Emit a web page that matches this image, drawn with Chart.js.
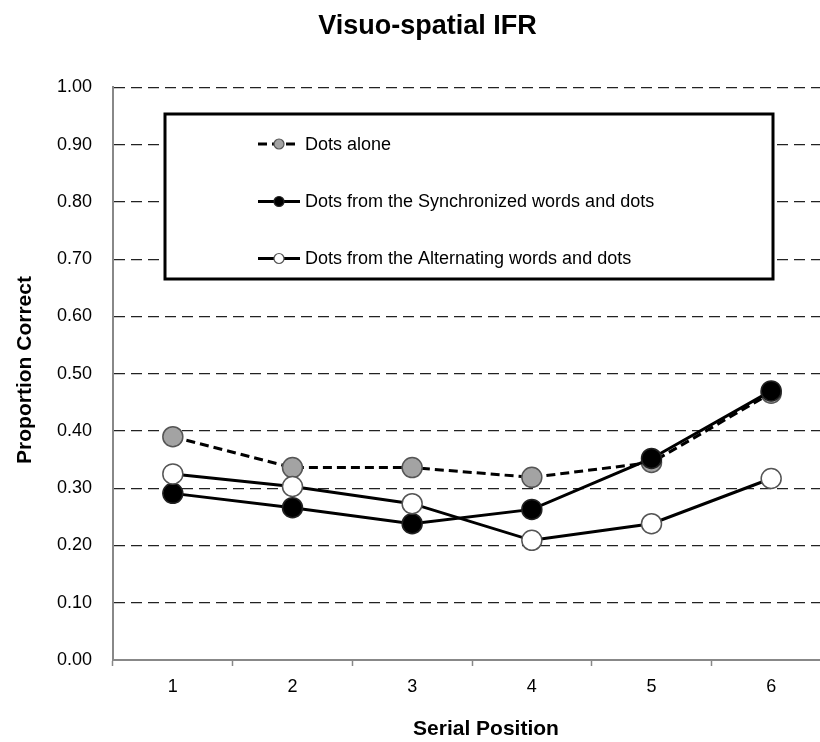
<!DOCTYPE html>
<html>
<head>
<meta charset="utf-8">
<script src="https://cdn.jsdelivr.net/npm/chart.js@4.4.0/dist/chart.umd.min.js"></script>
<style>
  html, body { margin: 0; padding: 0; overflow: hidden; background: #fff; }
  #wrap { width: 850px; height: 742px; position: relative; }
</style>
</head>
<body>
<div id="wrap"><canvas id="chart"></canvas></div>
<script>
// Serial positions and proportion correct for each condition
const positions = ["1", "2", "3", "4", "5", "6"];
const dotsAlone = [0.390, 0.336, 0.336, 0.319, 0.345, 0.466];
const dotsSync  = [0.291, 0.266, 0.238, 0.263, 0.352, 0.470];
const dotsAlt   = [0.325, 0.303, 0.273, 0.209, 0.238, 0.317];
const seriesNames = [
    "Dots alone",
    "Dots from the Synchronized words and dots",
    "Dots from the Alternating words and dots",
];

const FONT = "'Liberation Sans', Arial, sans-serif";
const GREY = "#a3a3a3";

// Boxed legend inside the plot, plus axis titles
const boxLegend = {
    id: "boxLegend",
    afterDatasetsDraw(chart) {
        const ctx = chart.ctx;
        ctx.save();
        ctx.fillStyle = "#fff";
        ctx.fillRect(165, 114, 608, 165);
        ctx.lineWidth = 3;
        ctx.strokeStyle = "#000";
        ctx.strokeRect(165, 114, 608, 165);

        const rows = [144, 201.5, 258.5];
        chart.data.datasets.forEach((ds, i) => {
            const y = rows[i];
            ctx.beginPath();
            ctx.lineWidth = 3;
            ctx.strokeStyle = "#000";
            ctx.setLineDash(ds.borderDash || []);
            ctx.moveTo(258, y);
            ctx.lineTo(300, y);
            ctx.stroke();
            ctx.setLineDash([]);
            ctx.beginPath();
            ctx.arc(279, y, 5, 0, Math.PI * 2);
            ctx.fillStyle = ds.pointBackgroundColor;
            ctx.fill();
            ctx.lineWidth = 1.2;
            ctx.strokeStyle = ds.pointBorderColor;
            ctx.stroke();

            ctx.fillStyle = "#000";
            ctx.font = "18px " + FONT;
            ctx.textAlign = "left";
            ctx.textBaseline = "middle";
            ctx.fillText(seriesNames[i], 305, y + 1);
        });

        // axis titles
        ctx.font = "bold 21px " + FONT;
        ctx.textAlign = "center";
        ctx.textBaseline = "middle";
        ctx.fillText("Serial Position", 486, 729);
        ctx.translate(25, 370);
        ctx.rotate(-Math.PI / 2);
        ctx.fillText("Proportion Correct", 0, 0);
        ctx.restore();
    },
};

new Chart(document.getElementById("chart"), {
    type: "line",
    data: {
        labels: positions,
        datasets: [
            {
                label: seriesNames[0],
                data: dotsAlone,
                borderColor: "#000",
                borderWidth: 3,
                borderDash: [9, 5],
                pointRadius: 10,
                pointBorderWidth: 1.5,
                pointBackgroundColor: GREY,
                pointBorderColor: "#555",
                order: 3,
            },
            {
                label: seriesNames[1],
                data: dotsSync,
                borderColor: "#000",
                borderWidth: 3,
                pointRadius: 10,
                pointBorderWidth: 1.5,
                pointBackgroundColor: "#000",
                pointBorderColor: "#222",
                order: 2,
            },
            {
                label: seriesNames[2],
                data: dotsAlt,
                borderColor: "#000",
                borderWidth: 3,
                pointRadius: 10,
                pointBorderWidth: 1.5,
                pointBackgroundColor: "#fff",
                pointBorderColor: "#555",
                order: 1,
            },
        ],
    },
    options: {
        responsive: true,
        maintainAspectRatio: false,
        animation: false,
        layout: { padding: { left: 24, right: 19 } },
        plugins: {
            legend: { display: false },
            tooltip: { enabled: false },
            title: {
                display: true,
                text: "Visuo-spatial IFR",
                color: "#000",
                font: { family: FONT, size: 27, weight: "bold" },
                padding: { top: 10, bottom: 45 },
            },
        },
        scales: {
            x: {
                offset: true,
                afterFit: (s) => { s.height = 82; },
                grid: {
                    offset: true,
                    drawOnChartArea: false,
                    tickLength: 6,
                    tickColor: "#888",
                    tickWidth: 1.5,
                },
                border: { color: "#888", width: 2 },
                ticks: {
                    padding: 10,
                    color: "#000",
                    font: { family: FONT, size: 18 },
                },
            },
            y: {
                min: 0,
                max: 1,
                afterFit: (s) => { s.width = 89; },
                grid: {
                    drawTicks: false,
                    lineWidth: 1.3,
                    color: (c) => (c.tick && c.tick.value === 0 ? "rgba(0,0,0,0)" : "#222"),
                },
                border: { color: "#888", width: 2, dash: [11, 6] },
                ticks: {
                    stepSize: 0.1,
                    padding: 21,
                    color: "#000",
                    font: { family: FONT, size: 18 },
                    callback: (v) => v.toFixed(2),
                },
            },
        },
    },
    plugins: [boxLegend],
});
</script>
</body>
</html>
